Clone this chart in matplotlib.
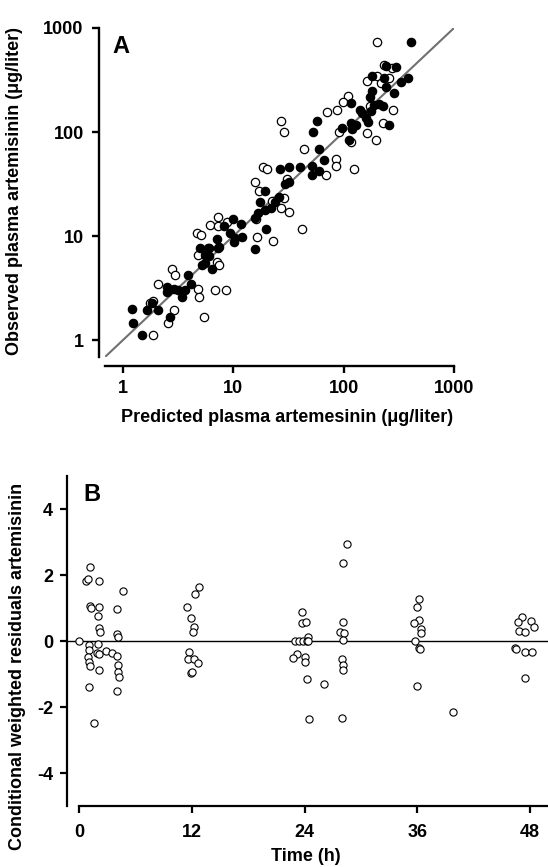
import matplotlib
matplotlib.use("Agg")
import matplotlib.pyplot as plt
import numpy as np

plt.rcParams['font.family'] = ['Liberation Sans', 'DejaVu Sans']
plt.rcParams['axes.unicode_minus'] = False

# ---------------- Panel A data (predicted vs observed, µg/liter) ----------------
filled_pred = [406, 241, 297, 182, 232, 241, 330, 384, 287, 182, 173, 116, 141, 148, 176, 189,
               209, 225, 159, 166, 57.7, 53, 97, 116, 129, 120, 258, 112, 60, 66, 26.7, 31.8,
               40.6, 51.2, 51.2, 59.6, 31.8, 29.7, 19.3, 17.6, 24.1, 26.2, 19.5, 22.1, 16.8, 15.8,
               9.86, 11.8, 8.16, 9.39, 10.3, 12.0, 10.1, 19.8, 7.11, 7.26, 5.96, 5.01, 15.6, 7.35,
               5.48, 5.96, 5.19, 5.56, 6.4, 3.92, 2.5, 2.87, 3.18, 3.66, 4.15, 3.42, 2.5, 1.82,
               1.64, 2.09, 1.2, 2.67, 1.24, 1.5]
filled_obs = [728, 434, 425, 348, 328, 273, 301, 333, 236, 248, 218, 189, 163, 151, 159, 182,
              185, 178, 137, 126, 128, 101, 109, 121, 117, 107, 117, 84, 68.7, 53.8, 43.8, 45.8,
              45.8, 47.1, 38.7, 42.5, 33.3, 31.6, 27.3, 21.4, 21.4, 23.9, 17.8, 18.5, 16.7, 14.8,
              14.5, 13.0, 12.5, 10.6, 9.5, 9.7, 8.8, 11.6, 9.3, 7.6, 7.6, 7.6, 7.45, 7.9,
              6.57, 6.42, 5.26, 5.46, 4.79, 4.22, 3.21, 3.07, 3.03, 3.03, 3.43, 2.61, 2.91, 2.25,
              1.94, 1.94, 1.97, 1.65, 1.45, 1.12]

open_pred = [202, 230, 277, 164, 202, 258, 217, 109, 99, 87.7, 70, 173, 279, 26.8, 28.7, 90.6,
             162, 225, 195, 117, 43.5, 84.6, 84.6, 124, 68.6, 18.5, 20.3, 15.6, 30.8, 17.2,
             22.5, 28.7, 26.8, 31.8, 41.5, 7.26, 8.77, 6.18, 7.26, 16.1, 4.68, 5.12, 16.4, 22.8,
             5.89, 4.78, 7.11, 7.35, 2.77, 2.97, 2.09, 4.78, 4.91, 6.76, 8.58, 1.76, 1.88, 2.87,
             2.58, 1.88, 5.37]
open_obs = [738, 441, 410, 309, 348, 333, 294, 222, 193, 162, 157, 178, 163, 128, 101, 101,
            98.6, 121, 84, 79.6, 68.7, 54.7, 47.1, 43.8, 38.6, 45.8, 43.8, 33.3, 35.1, 27.1,
            21.8, 23.4, 18.5, 17.1, 11.6, 15.1, 13.7, 12.8, 12.5, 14.5, 10.8, 10.2, 9.7, 9.0,
            7.6, 6.57, 5.66, 5.26, 4.79, 4.22, 3.45, 3.07, 2.57, 3.03, 3.03, 2.29, 2.39, 1.94,
            1.45, 1.12, 1.65]

a_ticks = [1, 10, 100, 1000]
a_ticklabels = ['1', '10', '100', '1000']
a_lim = [0.687, 1000]

# ---------------- Panel B data (time h, CWRES) ----------------
time_h = [0.0, 1.17, 0.71, 0.99, 2.16, 4.72, 1.17, 1.28, 2.16, 2.06, 4.01, 2.16, 2.24, 4.01, 4.12,
          1.06, 1.06, 0.99, 1.06, 1.13, 1.99, 1.88, 2.16, 2.87, 3.55, 4.01, 4.12, 4.18, 4.26,
          2.16, 1.06, 4.01, 1.63,
          12.77, 12.35, 11.46, 11.92, 12.27, 12.17, 11.71, 11.63, 12.27, 12.63, 11.92, 11.98,
          23.73, 23.70, 24.16, 24.40, 22.99, 23.45, 23.87, 24.23, 24.40, 23.23, 22.80, 24.00,
          24.00, 24.30, 26.10, 24.44,
          28.50, 28.13, 28.06, 27.78, 28.20, 28.06, 27.95, 28.06, 28.13, 27.96,
          36.19, 36.00, 36.19, 35.69, 36.37, 36.40, 35.76, 36.22, 36.28, 36.00, 39.77,
          47.11, 46.76, 48.10, 48.46, 46.86, 47.47, 46.40, 46.51, 47.47, 48.18, 47.47]
cwres = [0.0, 2.23, 1.83, 1.87, 1.82, 1.52, 1.06, 0.99, 1.02, 0.76, 0.96, 0.38, 0.28, 0.20, 0.13,
         -0.12, -0.27, -0.47, -0.63, -0.76, -0.09, -0.37, -0.39, -0.29, -0.35, -0.45, -0.73, -0.93, -1.08,
         -0.88, -1.38, -1.51, -2.49,
         1.63, 1.42, 1.02, 0.69, 0.41, 0.28, -0.32, -0.56, -0.56, -0.68, -0.96, -0.94,
         0.89, 0.54, 0.59, 0.13, 0.0, 0.0, 0.0, 0.0, 0.0, -0.39, -0.53, -0.47,
         -0.63, -1.15, -1.29, -2.36,
         2.93, 2.35, 0.59, 0.28, 0.25, 0.03, -0.56, -0.73, -0.88, -2.34,
         1.27, 1.02, 0.64, 0.54, 0.35, 0.25, 0.0, -0.22, -0.24, -1.35, -2.16,
         0.72, 0.59, 0.62, 0.43, 0.31, 0.26, -0.22, -0.25, -0.32, -0.32, -1.13]

b_xticks = [0, 12, 24, 36, 48]
b_yticks = [-4, -2, 0, 2, 4]

W, H = 548, 867
fig = plt.figure(figsize=(W / 100, H / 100), dpi=100)

def rect(x0, y0, x1, y1):
    return [x0 / W, 1 - y1 / H, (x1 - x0) / W, (y1 - y0) / H]

fs = 13
# ---------------- Panel A ----------------
axA = fig.add_axes(rect(105, 28, 454, 357))
axA.set_xscale('log')
axA.set_yscale('log')
axA.set_xlim(a_lim)
axA.set_ylim(a_lim)
axA.plot(a_lim, a_lim, color='#707070', lw=1.5, zorder=1)
axA.plot(open_pred, open_obs, 'o', ms=6, mfc='white', mec='black', mew=0.9, zorder=2, clip_on=False)
axA.plot(filled_pred, filled_obs, 'o', ms=6, mfc='black', mec='black', mew=0.9, zorder=3, clip_on=False)
axA.spines['top'].set_visible(False)
axA.spines['right'].set_visible(False)
axA.spines['left'].set_position(('outward', 4.3))
axA.spines['bottom'].set_position(('outward', 6.5))
for s in ['left', 'bottom']:
    axA.spines[s].set_linewidth(1.7)
axA.minorticks_off()
axA.set_xticks(a_ticks)
axA.set_xticklabels(a_ticklabels)
axA.set_yticks(a_ticks)
axA.set_yticklabels(a_ticklabels)
axA.tick_params(axis='both', which='major', length=5, width=1.7, labelsize=fs, direction='out')
axA.tick_params(axis='y', pad=6)
axA.tick_params(axis='x', pad=5)
axA.tick_params(which='minor', length=0)
for lab in axA.get_xticklabels() + axA.get_yticklabels():
    lab.set_fontweight('bold')
axA.set_xlabel('Predicted plasma artemesinin (μg/liter)', fontsize=fs, fontweight='bold')
axA.set_ylabel('Observed plasma artemisinin (μg/liter)', fontsize=fs, fontweight='bold')
axA.xaxis.set_label_coords(0.523, -0.158)
axA.yaxis.set_label_coords(-0.235, 0.505)
axA.text(0.02, 0.98, 'A', transform=axA.transAxes, fontsize=17, fontweight='bold', va='top', ha='left')

# ---------------- Panel B ----------------
axB = fig.add_axes(rect(79, 476, 548, 806))
axB.set_xlim(0, 49.9)
axB.set_ylim(-5, 5)
axB.axhline(0, xmin=-12 / 469, xmax=1, color='black', lw=1.0, zorder=1, clip_on=False)
axB.plot(time_h, cwres, 'o', ms=5.2, mfc='white', mec='black', mew=0.8, zorder=2, clip_on=False)
axB.spines['top'].set_visible(False)
axB.spines['right'].set_visible(False)
axB.spines['left'].set_position(('outward', 8.6))
for s in ['left', 'bottom']:
    axB.spines[s].set_linewidth(1.6)
axB.set_xticks(b_xticks)
axB.set_xticklabels([str(v) for v in b_xticks])
axB.set_yticks(b_yticks)
axB.set_yticklabels([str(v) for v in b_yticks])
axB.tick_params(axis='both', length=5, width=1.6, labelsize=fs, direction='out')
axB.tick_params(axis='y', pad=5)
axB.tick_params(axis='x', pad=8)
for lab in axB.get_xticklabels() + axB.get_yticklabels():
    lab.set_fontweight('bold')
axB.set_xlabel('Time (h)', fontsize=fs, fontweight='bold')
axB.set_ylabel('Conditional weighted residuals artemisinin', fontsize=fs, fontweight='bold')
axB.xaxis.set_label_coords(0.483, -0.128)
axB.yaxis.set_label_coords(-0.113, 0.424)
axB.text(0.01, 0.98, 'B', transform=axB.transAxes, fontsize=17, fontweight='bold', va='top', ha='left')

fig.savefig('out.png', dpi=100)
